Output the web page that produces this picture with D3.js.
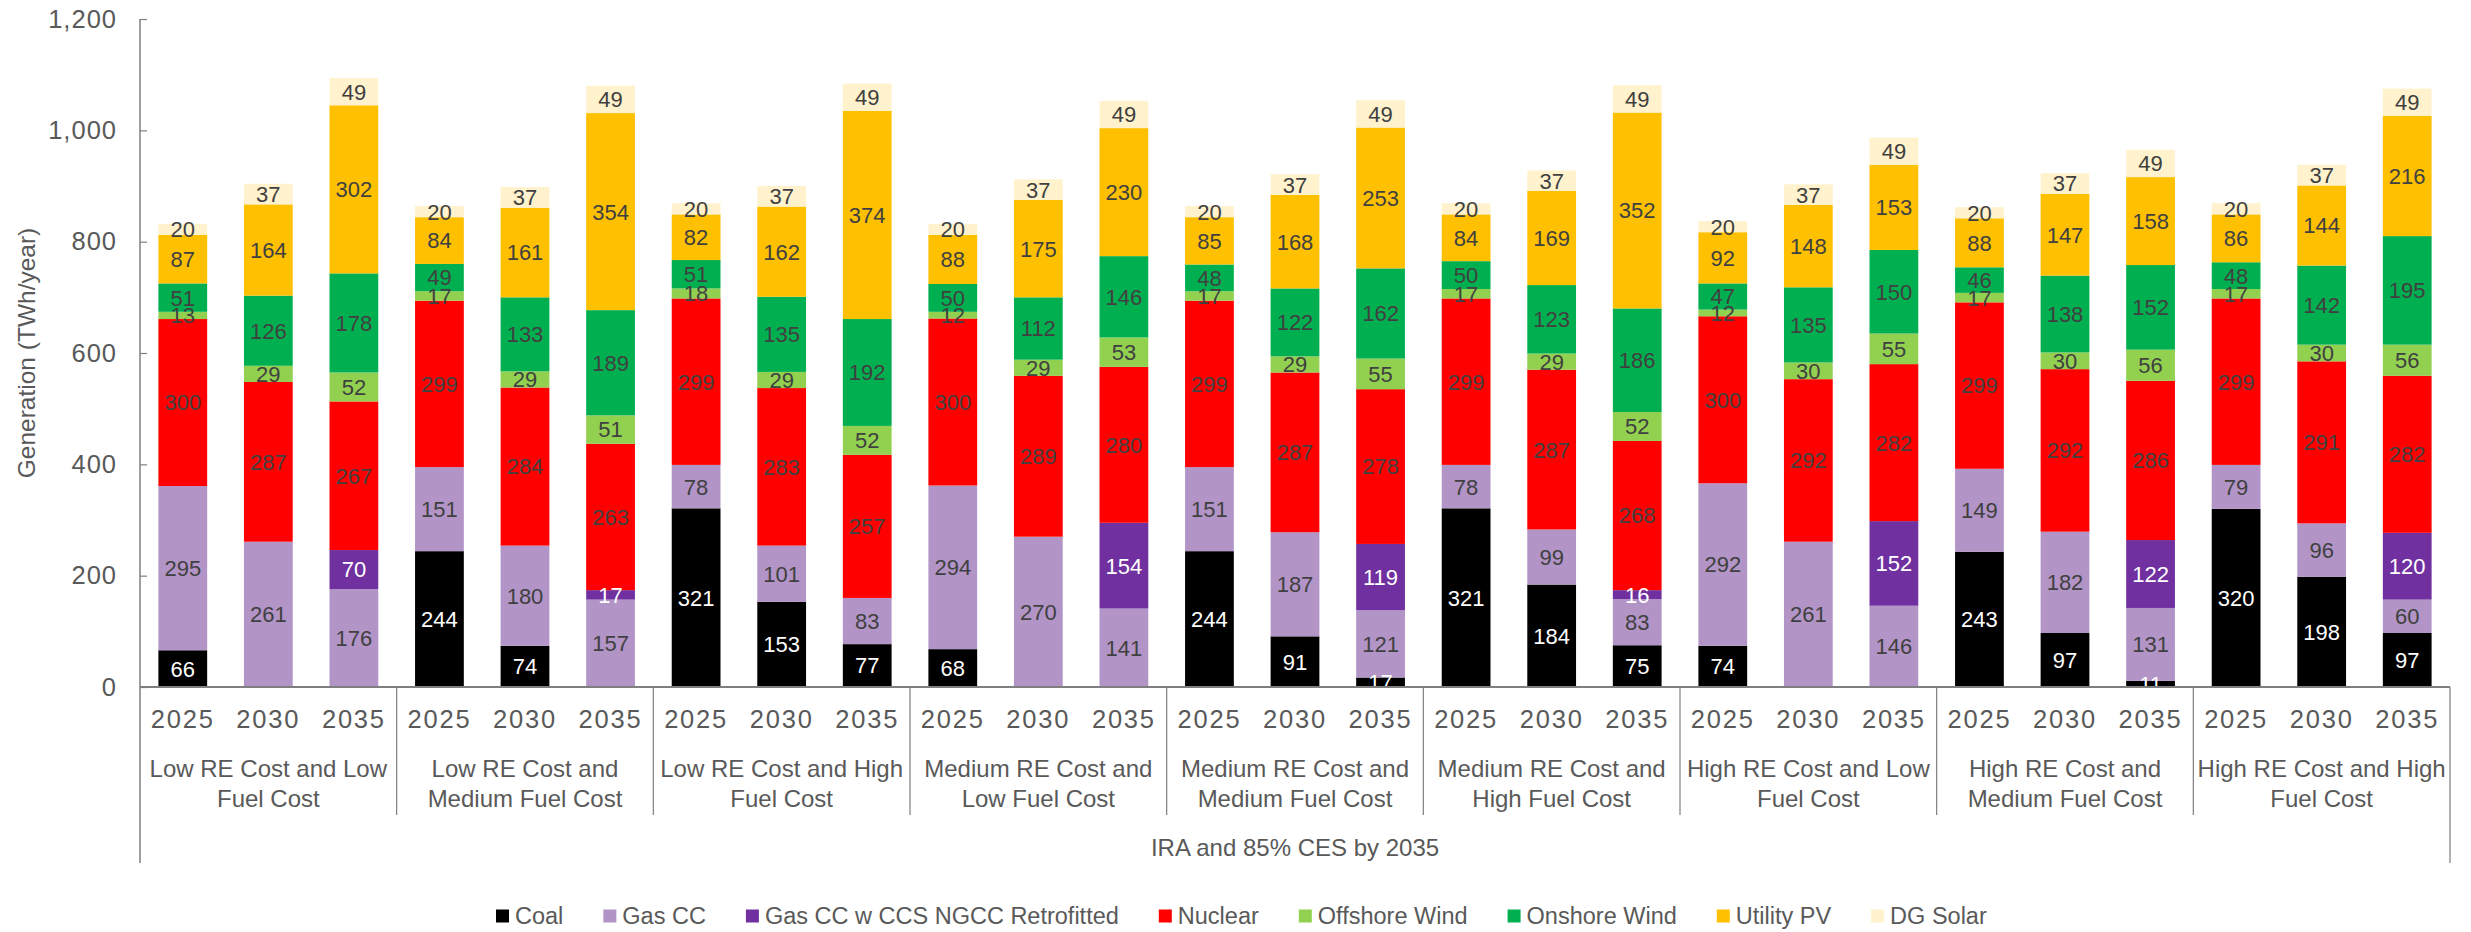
<!DOCTYPE html>
<html>
<head>
<meta charset="utf-8">
<script src="https://cdn.jsdelivr.net/npm/d3@7"></script>
<style>
  html, body { margin: 0; padding: 0; background: #fff; }
  svg { display: block; font-family: "Liberation Sans", Arial, sans-serif; }
</style>
</head>
<body>
<svg id="chart" width="2471" height="932"></svg>
<script>
// ---------------- DATA ----------------
const groupLabels = [
  ["Low RE Cost and Low", "Fuel Cost"],
  ["Low RE Cost and", "Medium Fuel Cost"],
  ["Low RE Cost and High", "Fuel Cost"],
  ["Medium RE Cost and", "Low Fuel Cost"],
  ["Medium RE Cost and", "Medium Fuel Cost"],
  ["Medium RE Cost and", "High Fuel Cost"],
  ["High RE Cost and Low", "Fuel Cost"],
  ["High RE Cost and", "Medium Fuel Cost"],
  ["High RE Cost and High", "Fuel Cost"]
];
const years = ["2025", "2030", "2035"];
const outerLabel = "IRA and 85% CES by 2035";
const yTicks = [0, 200, 400, 600, 800, 1000, 1200];
const seriesNames = ["Coal", "Gas CC", "Gas CC w CCS NGCC Retrofitted", "Nuclear",
                     "Offshore Wind", "Onshore Wind", "Utility PV", "DG Solar"];
const seriesColors = ["#000000", "#B294C7", "#7030A0", "#FF0000",
                      "#92D050", "#00B050", "#FFC000", "#FFF2CC"];
// one entry per bar (group-major, years 2025, 2030, 2035)
const coal      = [66, 0, 0,   244, 74, 0,   321, 153, 77,  68, 0, 0,    244, 91, 17,  321, 184, 75,  74, 0, 0,    243, 97, 11,  320, 198, 97];
const gasCC     = [295, 261, 176, 151, 180, 157, 78, 101, 83, 294, 270, 141, 151, 187, 121, 78, 99, 83, 292, 261, 146, 149, 182, 131, 79, 96, 60];
const gasCCS    = [0, 0, 70,   0, 0, 17,    0, 0, 0,     0, 0, 154,   0, 0, 119,   0, 0, 16,    0, 0, 152,   0, 0, 122,   0, 0, 120];
const nuclear   = [300, 287, 267, 299, 284, 263, 299, 283, 257, 300, 289, 280, 299, 287, 278, 299, 287, 268, 300, 292, 282, 299, 292, 286, 299, 291, 282];
const offshore  = [13, 29, 52,  17, 29, 51,  18, 29, 52,  12, 29, 53,  17, 29, 55,  17, 29, 52,  12, 30, 55,  17, 30, 56,  17, 30, 56];
const onshore   = [51, 126, 178, 49, 133, 189, 51, 135, 192, 50, 112, 146, 48, 122, 162, 50, 123, 186, 47, 135, 150, 46, 138, 152, 48, 142, 195];
const utilityPV = [87, 164, 302, 84, 161, 354, 82, 162, 374, 88, 175, 230, 85, 168, 253, 84, 169, 352, 92, 148, 153, 88, 147, 158, 86, 144, 216];
const dgSolar   = [20, 37, 49,  20, 37, 49,  20, 37, 49,  20, 37, 49,  20, 37, 49,  20, 37, 49,  20, 37, 49,  20, 37, 49,  20, 37, 49];

const seriesValues = [coal, gasCC, gasCCS, nuclear, offshore, onshore, utilityPV, dgSolar];

// ---------------- BUILD TABLE ----------------
const rows = [];
groupLabels.forEach((g, gi) => {
  years.forEach((yr, yi) => {
    const idx = gi * 3 + yi;
    const r = { group: gi, year: yr };
    seriesNames.forEach((s, si) => { r[s] = seriesValues[si][idx]; });
    rows.push(r);
  });
});

// ---------------- LAYOUT ----------------
const svg = d3.select("#chart");
const plotLeft = 140, plotRight = 2450, plotTop = 19, plotBottom = 687;

const xGroup = d3.scaleBand().domain(d3.range(groupLabels.length)).range([plotLeft, plotRight]).padding(0);
const xYear = d3.scaleBand().domain(years).range([0, xGroup.bandwidth()])
  .paddingInner(0.43).paddingOuter(0.215);
const y = d3.scaleLinear().domain([0, 1200]).range([plotBottom, plotTop]);
const color = d3.scaleOrdinal().domain(seriesNames).range(seriesColors);

const stacked = d3.stack().keys(seriesNames)(rows);

// bars
const layers = svg.append("g").selectAll("g").data(stacked).join("g")
  .attr("fill", d => color(d.key));
layers.selectAll("rect").data(d => d.map(p => Object.assign(p, { key: d.key }))).join("rect")
  .attr("x", d => xGroup(d.data.group) + xYear(d.data.year))
  .attr("width", xYear.bandwidth())
  .attr("y", d => y(d[1]))
  .attr("height", d => y(d[0]) - y(d[1]));

// data labels
const labelG = svg.append("g").attr("font-size", 22).attr("text-anchor", "middle");
stacked.forEach(layer => {
  layer.forEach(p => {
    const v = p[1] - p[0];
    if (v <= 0) return;
    const white = (layer.key === "Coal" || layer.key === "Gas CC w CCS NGCC Retrofitted");
    labelG.append("text")
      .attr("x", xGroup(p.data.group) + xYear(p.data.year) + xYear.bandwidth() / 2)
      .attr("y", y((p[0] + p[1]) / 2))
      .attr("dy", "0.36em")
      .attr("fill", white ? "#ffffff" : "#404040")
      .text(v);
  });
});

// y axis
const yAxis = d3.axisLeft(y).tickValues(yTicks).tickFormat(d3.format(","))
  .tickSizeInner(-7).tickSizeOuter(0).tickPadding(23);
const yg = svg.append("g").attr("transform", `translate(${plotLeft},0)`).call(yAxis);
yg.select(".domain").remove();
yg.selectAll(".tick line").attr("stroke", "#7f7f7f").attr("stroke-width", 1.2);
yg.selectAll(".tick text").attr("font-size", 25.5).attr("fill", "#595959")
  .attr("letter-spacing", "1px").attr("font-family", "'Liberation Sans', Arial, sans-serif");

const axisColor = "#7f7f7f";
// y axis line (extends down through category table)
svg.append("line").attr("x1", plotLeft).attr("x2", plotLeft).attr("y1", plotTop).attr("y2", 863)
  .attr("stroke", axisColor).attr("stroke-width", 1.5);
// right table border
svg.append("line").attr("x1", plotRight).attr("x2", plotRight).attr("y1", plotBottom).attr("y2", 863)
  .attr("stroke", axisColor).attr("stroke-width", 1.2);
// baseline
svg.append("line").attr("x1", plotLeft).attr("x2", plotRight).attr("y1", plotBottom).attr("y2", plotBottom)
  .attr("stroke", axisColor).attr("stroke-width", 2);
// group dividers
d3.range(1, groupLabels.length).forEach(gi => {
  svg.append("line").attr("x1", xGroup(gi)).attr("x2", xGroup(gi))
    .attr("y1", plotBottom).attr("y2", 815)
    .attr("stroke", axisColor).attr("stroke-width", 1.2);
});

// year labels
const catG = svg.append("g").attr("fill", "#595959").attr("text-anchor", "middle");
groupLabels.forEach((g, gi) => {
  years.forEach(yr => {
    catG.append("text")
      .attr("x", xGroup(gi) + xYear(yr) + xYear.bandwidth() / 2)
      .attr("y", 719).attr("dy", "0.36em")
      .attr("font-size", 25.5).attr("letter-spacing", "1.8px")
      .text(yr);
  });
  g.forEach((line, li) => {
    catG.append("text")
      .attr("x", xGroup(gi) + xGroup.bandwidth() / 2)
      .attr("y", 768 + li * 30).attr("dy", "0.36em")
      .attr("font-size", 24)
      .text(line);
  });
});
catG.append("text").attr("x", (plotLeft + plotRight) / 2).attr("y", 847).attr("dy", "0.36em")
  .attr("font-size", 24).text(outerLabel);

// y axis title
svg.append("text")
  .attr("transform", `translate(26,${(plotTop + plotBottom) / 2}) rotate(-90)`)
  .attr("text-anchor", "middle").attr("dy", "0.36em")
  .attr("font-size", 24.5).attr("fill", "#595959")
  .text("Generation (TWh/year)");

// legend
const legend = svg.append("g").attr("transform", "translate(0,916)");
let lx = 496;
seriesNames.forEach((s, i) => {
  const item = legend.append("g").attr("transform", `translate(${lx},0)`);
  item.append("rect").attr("x", 0).attr("y", -6.5).attr("width", 13).attr("height", 13).attr("fill", color(s));
  const t = item.append("text").attr("x", 19).attr("dy", "0.36em")
    .attr("font-size", 23.5).attr("fill", "#595959").text(s);
  const w = t.node().getComputedTextLength();
  lx += 19 + w + 40;
});
</script>
</body>
</html>
